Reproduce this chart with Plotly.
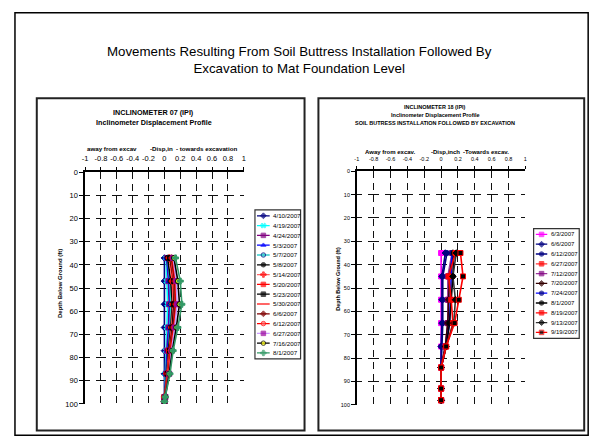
import plotly.graph_objects as go

W, H = 602, 446
OFF = 8  # page body margin shifts the figure by this many pixels
FONT = 'Liberation Sans, Arial, sans-serif'

# --- Inclinometer 07 data (displacement in inches vs depth in ft) ---
depth07 = [37, 47, 57, 67, 77, 87, 97, 99]
dates07 = ['4/10/2007', '4/19/2007', '4/24/2007', '5/3/2007', '5/7/2007', '5/8/2007',
           '5/14/2007', '5/20/2007', '5/23/2007', '5/30/2007', '6/6/2007', '6/12/2007',
           '6/27/2007', '7/16/2007', '8/1/2007']
disp07 = [
    [0.00, 0.00, 0.00, 0.00, 0.00, 0.00, 0.00, 0.00],
    [0.02, 0.03, 0.04, 0.03, 0.02, 0.01, 0.00, 0.00],
    [0.03, 0.05, 0.06, 0.05, 0.03, 0.02, 0.00, 0.00],
    [0.03, 0.06, 0.07, 0.06, 0.04, 0.02, 0.00, 0.00],
    [0.04, 0.07, 0.08, 0.07, 0.05, 0.03, 0.00, 0.00],
    [0.04, 0.08, 0.10, 0.08, 0.05, 0.03, 0.00, 0.00],
    [0.06, 0.10, 0.11, 0.09, 0.06, 0.03, 0.00, 0.00],
    [0.07, 0.11, 0.12, 0.10, 0.06, 0.04, 0.00, 0.00],
    [0.07, 0.12, 0.12, 0.10, 0.07, 0.04, 0.01, 0.00],
    [0.08, 0.12, 0.13, 0.11, 0.07, 0.04, 0.01, 0.00],
    [0.09, 0.13, 0.14, 0.11, 0.08, 0.05, 0.01, 0.00],
    [0.10, 0.14, 0.15, 0.12, 0.08, 0.05, 0.01, 0.00],
    [0.11, 0.15, 0.16, 0.13, 0.09, 0.06, 0.01, 0.00],
    [0.12, 0.17, 0.19, 0.15, 0.10, 0.06, 0.01, 0.00],
    [0.14, 0.20, 0.22, 0.17, 0.11, 0.07, 0.01, 0.00],
]
# line colour, marker symbol, marker fill, marker outline
style07 = [
    ('#000080', 'diamond', '#000080', '#000080'),
    ('#00FFFF', 'x', '#00FFFF', '#00FFFF'),
    ('#800080', 'square', '#800080', '#800080'),
    ('#0000FF', 'triangle-up', '#0000FF', '#0000FF'),
    ('#33CCCC', 'circle', '#33CCCC', '#000080'),
    ('#000000', 'circle', '#000000', '#000000'),
    ('#FF6666', 'cross', '#FF0000', '#FF0000'),
    ('#FF0000', 'square', '#FF0000', '#FF0000'),
    ('#000000', 'square', '#000000', '#000000'),
    ('#FF3333', None, '#FF3333', '#FF3333'),
    ('#800000', 'diamond', '#800000', '#800000'),
    ('#FF0000', 'circle', '#FF6666', '#FF0000'),
    ('#CC99FF', 'square', '#990099', '#990099'),
    ('#000000', 'circle', '#FFFF00', '#000000'),
    ('#339966', 'cross', '#339966', '#339966'),
]

# --- Inclinometer 18 data ---
depth18 = [35, 45, 55, 65, 75, 84, 93, 98]
dates18 = ['6/3/2007', '6/6/2007', '6/12/2007', '6/27/2007', '7/12/2007', '7/20/2007',
           '7/24/2007', '8/1/2007', '8/19/2007', '9/13/2007', '9/19/2007']
disp18 = [
    [0.00, 0.00, 0.00, 0.00, 0.00, 0.00, 0.00, 0.00],
    [0.05, 0.01, 0.01, 0.01, 0.00, 0.00, 0.00, 0.00],
    [0.07, 0.02, 0.02, 0.02, 0.01, 0.00, 0.00, 0.00],
    [0.14, 0.09, 0.09, 0.08, 0.05, 0.00, 0.00, 0.00],
    [0.13, 0.08, 0.08, 0.08, 0.05, 0.00, 0.00, 0.00],
    [0.14, 0.10, 0.09, 0.08, 0.05, 0.00, 0.00, 0.00],
    [0.13, 0.12, 0.11, 0.10, 0.06, 0.00, 0.00, 0.00],
    [0.15, 0.14, 0.12, 0.10, 0.06, 0.00, 0.00, 0.00],
    [0.17, 0.09, 0.12, 0.14, 0.06, 0.00, 0.00, 0.00],
    [0.18, 0.14, 0.17, 0.15, 0.06, 0.00, 0.00, 0.00],
    [0.23, 0.26, 0.21, 0.16, 0.06, 0.00, 0.00, 0.00],
]
style18 = [
    ('#FF00FF', 'square', '#FF00FF', '#FF00FF'),
    ('#000080', 'diamond', '#000080', '#000080'),
    ('#000080', 'circle', '#000080', '#000080'),
    ('#FF3333', 'square', '#FF0000', '#FF0000'),
    ('#993399', 'square', '#800080', '#800080'),
    ('#330000', 'diamond', '#330000', '#330000'),
    ('#0000FF', 'circle', '#000080', '#000080'),
    ('#000000', 'circle', '#000000', '#000000'),
    ('#FF0000', 'square', '#FF0000', '#FF0000'),
    ('#333333', 'diamond', '#000000', '#000000'),
    ('#FF0000', 'square', '#000000', '#FF0000'),
]

xticks = [-1, -0.8, -0.6, -0.4, -0.2, 0, 0.2, 0.4, 0.6, 0.8, 1]
xticklabels = ['-1', '-0.8', '-0.6', '-0.4', '-0.2', '0', '0.2', '0.4', '0.6', '0.8', '1']
yticks = [0, 10, 20, 30, 40, 50, 60, 70, 80, 90, 100]


# screen pixel -> paper fraction
def px(x):
    return (x - OFF) / W


def py(y):
    return 1 - (y - OFF) / H


fig = go.Figure()


def add_series(depths, dates, disps, styles, xa, ya, lw):
    for d, vals, (lc, sym, mfill, mline) in zip(dates, disps, styles):
        mode = 'lines+markers' if sym else 'lines'
        fig.add_trace(go.Scatter(
            x=vals, y=depths, mode=mode, name=d, xaxis=xa, yaxis=ya,
            line=dict(color=lc, width=lw),
            marker=dict(symbol=sym or 'circle', size=5, color=mfill,
                        line=dict(color=mline, width=1)),
        ))


def add_legend(dates, styles, xa, ya, fsize):
    for i, (d, (lc, sym, mfill, mline)) in enumerate(zip(dates, styles)):
        fig.add_trace(go.Scatter(
            x=[0, 0.5, 1], y=[i, i, i], mode='lines+markers' if sym else 'lines',
            xaxis=xa, yaxis=ya, showlegend=False, hoverinfo='skip',
            line=dict(color=lc, width=1.3),
            marker=dict(symbol=sym or 'circle', size=[0, 4.5, 0], color=mfill,
                        line=dict(color=mline, width=[0, 1, 0])),
        ))
        fig.add_annotation(x=1, y=i, xref=xa, yref=ya, text=d, showarrow=False,
                           xanchor='left', xshift=1, font=dict(size=fsize, color='#000'))


add_series(depth07, dates07, disp07, style07, 'x', 'y', 1.6)
add_series(depth18, dates18, disp18, style18, 'x2', 'y2', 1.6)
add_legend(dates07, style07, 'x3', 'y3', 6.2)
add_legend(dates18, style18, 'x4', 'y4', 6)

common_x = dict(range=[-1, 1], tickvals=xticks, ticktext=xticklabels, side='top',
                showline=True, linecolor='#000', linewidth=1.5, zeroline=False,
                showgrid=True, gridcolor='#111', gridwidth=1, ticklabelstandoff=3,
                ticks='outside', ticklen=3, tickcolor='#000', fixedrange=True)
common_y = dict(range=[100, 0], tickvals=yticks, showline=True, linecolor='#000',
                linewidth=1.5, zeroline=False, showgrid=True, gridcolor='#111',
                gridwidth=1, ticks='outside', ticklen=4, tickcolor='#000', fixedrange=True)

fig.update_layout(
    xaxis=dict(common_x, domain=[px(82.7), px(242.7)], anchor='y',
               griddash='7px,4.8px', tickfont=dict(size=7.5)),
    yaxis=dict(common_y, domain=[py(408), py(171.5)], anchor='x',
               griddash='5px,6px,5px,0px', tickfont=dict(size=7.5)),
    xaxis2=dict(common_x, domain=[px(356.7), px(526.7)], anchor='y2',
                griddash='7px,4.9px', tickfont=dict(size=5.5)),
    yaxis2=dict(common_y, domain=[py(409), py(170.5)], anchor='x2',
                griddash='5.5px,6px,5.5px,0px', tickfont=dict(size=5.5)),
    xaxis3=dict(domain=[px(256), px(269)], range=[0, 1], visible=False, anchor='y3'),
    yaxis3=dict(domain=[py(361), py(211)], range=[14.5, -0.5], visible=False, anchor='x3'),
    xaxis4=dict(domain=[px(537), px(549)], range=[0, 1], visible=False, anchor='y4'),
    yaxis4=dict(domain=[py(340), py(230)], range=[10.5, -0.5], visible=False, anchor='x4'),
)

shapes = [
    # outer frame
    dict(type='rect', x0=px(12), x1=px(590), y0=py(8.75), y1=py(440), line=dict(color='#000', width=1.5)),
    # chart boxes
    dict(type='rect', x0=px(34), x1=px(304), y0=py(96), y1=py(435), line=dict(color='#222', width=2)),
    dict(type='rect', x0=px(318), x1=px(586), y0=py(96), y1=py(435), line=dict(color='#222', width=2)),
    # legend boxes
    dict(type='rect', x0=px(254), x1=px(300), y0=py(210), y1=py(362), line=dict(color='#333', width=1.2)),
    dict(type='rect', x0=px(535), x1=px(581), y0=py(229), y1=py(341), line=dict(color='#333', width=1.2)),
]
for s in shapes:
    s.update(xref='paper', yref='paper', layer='above')
fig.update_layout(shapes=shapes)


def txt(text, x, y, size, bold=False, anchor='center', angle=0):
    t = '<b>%s</b>' % text if bold else text
    fig.add_annotation(x=px(x), y=py(y), xref='paper', yref='paper', text=t,
                       showarrow=False, xanchor=anchor, yanchor='middle',
                       textangle=angle, font=dict(size=size, color='#000'))


txt('Movements Resulting From Soil Buttress Installation Followed By<br>'
    'Excavation to Mat Foundation Level', 299, 57, 13.3)

txt('INCLINOMETER 07 (IPI)', 152, 111, 7.2, True)
txt('Inclinometer Displacement Profile', 152, 121, 7.2, True)
txt('away from excav', 83, 147, 6.2, True, 'left')
txt('-Disp,in', 146, 147, 6.2, True, 'left')
txt('- towards excavation', 172, 147, 6.2, True, 'left')
txt('Depth Below Ground (ft)', 58, 285, 6, True, 'center', -90)

txt('INCLINOMETER 18 (IPI)', 436, 105, 5.5, True)
txt('Inclinometer Displacement Profile', 436, 113, 5.5, True)
txt('SOIL BUTRESS INSTALLATION FOLLOWED BY EXCAVATION', 436, 121.5, 5.5, True)
txt('Away from excav.', 362.7, 151, 6, True, 'left')
txt('-Disp,inch', 429, 151, 6, True, 'left')
txt('-Towards excav.', 461.7, 151, 6, True, 'left')
txt('Depth Below Ground (ft)', 337, 280, 5.5, True, 'center', -90)

fig.update_layout(
    width=W, height=H, margin=dict(l=0, r=0, t=0, b=0),
    paper_bgcolor='#ffffff', plot_bgcolor='#ffffff', showlegend=False,
    font=dict(family=FONT, color='#000'),
)

fig.write_html('out.html')
